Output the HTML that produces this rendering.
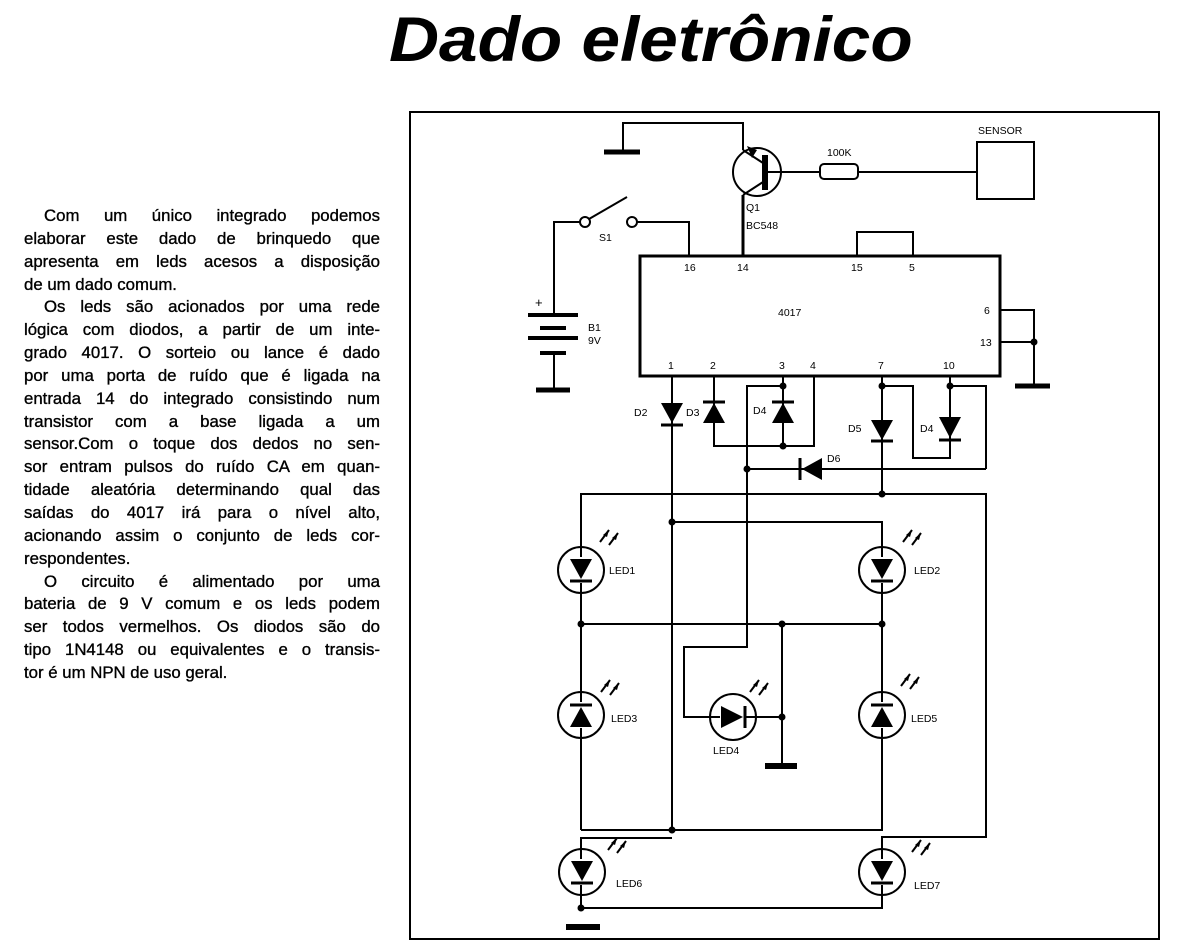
<!DOCTYPE html>
<html><head><meta charset="utf-8"><style>
html,body{margin:0;padding:0;background:#fff;}
body{width:1185px;height:951px;position:relative;overflow:hidden;}
.title{position:absolute;left:389px;top:4px;font:italic bold 63px "Liberation Sans",sans-serif;white-space:nowrap;transform:scaleX(1.1);transform-origin:0 0;}
.txt{position:absolute;left:24px;top:205px;width:356px;font:16.8px/22.85px "Liberation Sans",sans-serif;color:#000;-webkit-text-stroke:0.35px #000;}
.txt div{text-align:justify;text-align-last:justify;height:22.85px;}
.txt div.l{text-align-last:left;white-space:nowrap;}
.txt div.i{padding-left:20px;}
</style></head><body>
<div class="title">Dado eletrônico</div>
<div class="txt">
<div class="i">Com um único integrado podemos</div>
<div>elaborar este dado de brinquedo que</div>
<div>apresenta em leds acesos a disposição</div>
<div class="l">de um dado comum.</div>
<div class="i">Os leds são acionados por uma rede</div>
<div>lógica com diodos, a partir de um inte-</div>
<div>grado 4017. O sorteio ou lance é dado</div>
<div>por uma porta de ruído que é ligada na</div>
<div>entrada 14 do integrado consistindo num</div>
<div>transistor com a base ligada a um</div>
<div>sensor.Com o toque dos dedos no sen-</div>
<div>sor entram pulsos do ruído CA em quan-</div>
<div>tidade aleatória determinando qual das</div>
<div>saídas do 4017 irá para o nível alto,</div>
<div>acionando assim o conjunto de leds cor-</div>
<div class="l">respondentes.</div>
<div class="i">O circuito é alimentado por uma</div>
<div>bateria de 9 V comum e os leds podem</div>
<div>ser todos vermelhos. Os diodos são do</div>
<div>tipo 1N4148 ou equivalentes e o transis-</div>
<div class="l">tor é um NPN de uso geral.</div>
</div>
<svg style="position:absolute;left:0;top:0" width="1185" height="951" viewBox="0 0 1185 951">
<defs>
<g id="arr"><line x1="0" y1="0" x2="9" y2="-12" stroke="#000" stroke-width="2"/><polygon points="9,-12 3,-7 7,-5" fill="#000"/><line x1="9" y1="3" x2="18" y2="-9" stroke="#000" stroke-width="2"/><polygon points="18,-9 12,-4 16,-2" fill="#000"/></g>
</defs>
<g fill="none" stroke="#000" stroke-width="2">
<rect x="410" y="112" width="749" height="827"/>
<polyline points="623,152 623,123 743,123 743,150"/>
<line x1="743" y1="150" x2="763" y2="163"/>
<line x1="763" y1="182" x2="743" y2="195"/>
<line x1="743" y1="195" x2="743" y2="256" stroke-width="3"/>
<circle cx="757" cy="172" r="24"/>
<line x1="765" y1="155" x2="765" y2="190" stroke-width="6"/>
<line x1="765" y1="172" x2="820" y2="172"/>
<rect x="820" y="164" width="38" height="15" rx="4"/>
<line x1="858" y1="172" x2="977" y2="172"/>
<rect x="977" y="142" width="57" height="57"/>
<circle cx="585" cy="222" r="5"/><circle cx="632" cy="222" r="5"/>
<line x1="589" y1="219" x2="627" y2="197"/>
<polyline points="580,222 554,222 554,315"/>
<polyline points="637,222 689,222 689,256"/>
<line x1="554" y1="353" x2="554" y2="390"/>
<rect x="640" y="256" width="360" height="120" stroke-width="3"/>
<polyline points="857,256 857,232 913,232 913,256"/>
<polyline points="1000,310 1034,310 1034,386"/>
<line x1="1000" y1="342" x2="1034" y2="342"/>
<line x1="672" y1="376" x2="672" y2="830"/>
<polyline points="714,376 714,446 814,446 814,376"/>
<line x1="783" y1="376" x2="783" y2="446"/>
<polyline points="783,386 747,386 747,647 684,647 684,717 782,717"/>
<line x1="747" y1="469" x2="986" y2="469"/>
<polyline points="882,376 882,494"/>
<polyline points="882,386 913,386 913,458 950,458 950,376"/>
<polyline points="950,386 986,386 986,469"/>
<polyline points="581,830 581,494 986,494 986,837 882,837 882,908 581,908 581,838 672,838"/>
<polyline points="672,522 882,522 882,830 581,830"/>
<line x1="581" y1="624" x2="882" y2="624"/>
<line x1="782" y1="624" x2="782" y2="766"/>
<circle cx="581" cy="570" r="23"/><circle cx="581" cy="715" r="23"/><circle cx="882" cy="570" r="23"/><circle cx="882" cy="715" r="23"/>
<circle cx="733" cy="717" r="23"/><circle cx="582" cy="872" r="23"/><circle cx="882" cy="872" r="23"/>
</g>
<g fill="#fff" stroke="none">
<rect x="570" y="557" width="22" height="26"/><rect x="570" y="702" width="22" height="26"/><rect x="871" y="557" width="22" height="26"/><rect x="871" y="702" width="22" height="26"/><rect x="571" y="859" width="22" height="26"/><rect x="871" y="859" width="22" height="26"/><rect x="720" y="706" width="26" height="22"/>
</g>
<g fill="#000" stroke="#000" stroke-width="3">
<line x1="604" y1="152" x2="640" y2="152" stroke-width="5"/>
<line x1="528" y1="315" x2="578" y2="315" stroke-width="4"/>
<line x1="540" y1="328" x2="566" y2="328" stroke-width="4"/>
<line x1="528" y1="338" x2="578" y2="338" stroke-width="4"/>
<line x1="540" y1="353" x2="566" y2="353" stroke-width="4"/>
<line x1="536" y1="390" x2="570" y2="390" stroke-width="5"/>
<line x1="1015" y1="386" x2="1050" y2="386" stroke-width="5"/>
<line x1="765" y1="766" x2="797" y2="766" stroke-width="6"/>
<line x1="566" y1="927" x2="600" y2="927" stroke-width="6"/>
<polygon points="661,403 683,403 672,423" stroke="none"/><line x1="661" y1="425" x2="683" y2="425"/>
<polygon points="703,423 725,423 714,403" stroke="none"/><line x1="703" y1="402" x2="725" y2="402"/>
<polygon points="772,423 794,423 783,403" stroke="none"/><line x1="772" y1="402" x2="794" y2="402"/>
<polygon points="871,420 893,420 882,440" stroke="none"/><line x1="871" y1="441" x2="893" y2="441"/>
<polygon points="939,417 961,417 950,438" stroke="none"/><line x1="939" y1="440" x2="961" y2="440"/>
<polygon points="822,458 822,480 802,469" stroke="none"/><line x1="800" y1="458" x2="800" y2="480"/>
<polygon points="570,559 592,559 581,579" stroke="none"/><line x1="570" y1="581" x2="592" y2="581"/>
<polygon points="871,559 893,559 882,579" stroke="none"/><line x1="871" y1="581" x2="893" y2="581"/>
<polygon points="570,727 592,727 581,707" stroke="none"/><line x1="570" y1="705" x2="592" y2="705"/>
<polygon points="871,727 893,727 882,707" stroke="none"/><line x1="871" y1="705" x2="893" y2="705"/>
<polygon points="571,861 593,861 582,881" stroke="none"/><line x1="571" y1="883" x2="593" y2="883"/>
<polygon points="871,861 893,861 882,881" stroke="none"/><line x1="871" y1="883" x2="893" y2="883"/>
<polygon points="721,706 721,728 743,717" stroke="none"/><line x1="745" y1="706" x2="745" y2="728"/>
<polygon points="747,146 752,158 757,150" stroke="none"/>
</g>
<g fill="#000">
<circle cx="783" cy="386" r="3.5"/><circle cx="783" cy="446" r="3.5"/><circle cx="747" cy="469" r="3.5"/>
<circle cx="882" cy="386" r="3.5"/><circle cx="950" cy="386" r="3.5"/><circle cx="882" cy="494" r="3.5"/>
<circle cx="1034" cy="342" r="3.5"/>
<circle cx="672" cy="522" r="3.5"/><circle cx="581" cy="624" r="3.5"/><circle cx="782" cy="624" r="3.5"/><circle cx="882" cy="624" r="3.5"/>
<circle cx="782" cy="717" r="3.5"/><circle cx="672" cy="830" r="3.5"/><circle cx="581" cy="908" r="3.5"/>
</g>
<use href="#arr" x="600" y="542"/><use href="#arr" x="903" y="542"/><use href="#arr" x="601" y="692"/><use href="#arr" x="901" y="686"/>
<use href="#arr" x="750" y="692"/><use href="#arr" x="608" y="850"/><use href="#arr" x="912" y="852"/>
<g font-family="Liberation Sans,sans-serif" font-size="10.5" fill="#000">
<text x="978" y="134">SENSOR</text>
<text x="827" y="156">100K</text>
<text x="746" y="211">Q1</text>
<text x="746" y="229">BC548</text>
<text x="599" y="241">S1</text>
<text x="535" y="307" font-size="13">+</text>
<text x="588" y="331">B1</text>
<text x="588" y="344">9V</text>
<text x="684" y="271">16</text><text x="737" y="271">14</text><text x="851" y="271">15</text><text x="909" y="271">5</text>
<text x="778" y="316">4017</text>
<text x="984" y="314">6</text><text x="980" y="346">13</text>
<text x="668" y="369">1</text><text x="710" y="369">2</text><text x="779" y="369">3</text><text x="810" y="369">4</text><text x="878" y="369">7</text><text x="943" y="369">10</text>
<text x="634" y="416">D2</text><text x="686" y="416">D3</text><text x="753" y="414">D4</text>
<text x="848" y="432">D5</text><text x="920" y="432">D4</text><text x="827" y="462">D6</text>
<text x="609" y="574">LED1</text><text x="914" y="574">LED2</text><text x="611" y="722">LED3</text>
<text x="713" y="754">LED4</text><text x="911" y="722">LED5</text><text x="616" y="887">LED6</text><text x="914" y="889">LED7</text>
</g>
</svg>
</body></html>
